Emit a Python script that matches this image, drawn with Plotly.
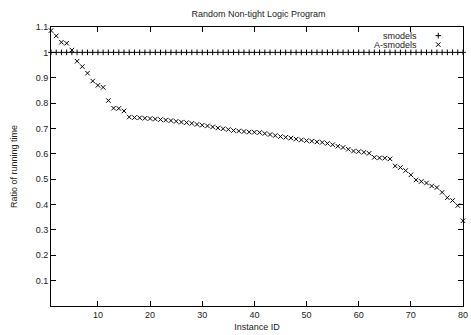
import plotly.graph_objects as go

instance_ids = list(range(1, 81))
smodels = [1.0] * 80
a_smodels = [
    1.086, 1.065, 1.040, 1.036, 1.009, 0.965, 0.944, 0.918, 0.887, 0.870,
    0.862, 0.810, 0.780, 0.779, 0.769, 0.745, 0.743, 0.742, 0.740, 0.739,
    0.737, 0.735, 0.733, 0.731, 0.728, 0.725, 0.723, 0.720, 0.716, 0.713,
    0.710, 0.706, 0.702, 0.699, 0.696, 0.692, 0.690, 0.688, 0.686, 0.685,
    0.684, 0.680, 0.676, 0.672, 0.668, 0.665, 0.662, 0.658, 0.655, 0.652,
    0.650, 0.647, 0.645, 0.641, 0.636, 0.630, 0.625, 0.618, 0.611, 0.609,
    0.606, 0.602, 0.586, 0.584, 0.583, 0.580, 0.552, 0.546, 0.534, 0.517,
    0.497, 0.491, 0.485, 0.473, 0.467, 0.448, 0.427, 0.416, 0.396, 0.336,
]
x_ticks = [10, 20, 30, 40, 50, 60, 70, 80]
y_ticks = [0.1, 0.2, 0.3, 0.4, 0.5, 0.6, 0.7, 0.8, 0.9, 1.0, 1.1]
y_ticktext = ["0.1", "0.2", "0.3", "0.4", "0.5", "0.6", "0.7", "0.8", "0.9", "1", "1.1"]
series_names = ["smodels", "A-smodels"]

FONT = "Liberation Sans, Arial, sans-serif"
ink = "#000000"
txt = "#222222"

fig = go.Figure()
fig.add_trace(go.Scatter(
    x=instance_ids, y=smodels, mode="markers", name=series_names[0],
    marker=dict(symbol="cross-thin", size=4, line=dict(width=1, color=ink), color=ink),
    cliponaxis=False, showlegend=False,
))
fig.add_trace(go.Scatter(
    x=instance_ids, y=a_smodels, mode="markers", name=series_names[1],
    marker=dict(symbol="x-thin", size=4.5, line=dict(width=1, color=ink), color=ink),
    cliponaxis=False, showlegend=False,
))
# legend key markers on an overlay axis (0..1 space over the plot area)
fig.add_trace(go.Scatter(
    x=[0.94], y=[0.969], xaxis="x2", yaxis="y2", mode="markers",
    marker=dict(symbol="cross-thin", size=4, line=dict(width=1, color=ink)),
    showlegend=False, hoverinfo="skip", cliponaxis=False,
))
fig.add_trace(go.Scatter(
    x=[0.94], y=[0.937], xaxis="x2", yaxis="y2", mode="markers",
    marker=dict(symbol="x-thin", size=4.5, line=dict(width=1, color=ink)),
    showlegend=False, hoverinfo="skip", cliponaxis=False,
))

axis_common = dict(
    showline=True, linecolor=ink, linewidth=1, mirror="allticks",
    ticks="inside", ticklen=5, tickwidth=1, tickcolor=ink,
    showgrid=False, zeroline=False, ticklabeloverflow="allow",
    tickfont=dict(family=FONT, size=9, color=txt),
)

fig.update_layout(
    width=471, height=335,
    margin=dict(l=51, r=3, t=27, b=29),
    paper_bgcolor="white", plot_bgcolor="white",
    title=dict(text="Random Non-tight Logic Program", x=0.549, xanchor="center",
               y=1 - 14 / 335, yanchor="middle",
               font=dict(family=FONT, size=9, color=txt)),
    xaxis=dict(range=[1, 80], tickvals=x_ticks,
               title=dict(text="Instance ID", font=dict(family=FONT, size=9, color=txt), standoff=4),
               **axis_common),
    yaxis=dict(range=[0, 1.1], tickvals=y_ticks, ticktext=y_ticktext,
               title=dict(text="Ratio of running time", font=dict(family=FONT, size=9, color=txt), standoff=16),
               **axis_common),
    xaxis2=dict(range=[0, 1], overlaying="x", visible=False, fixedrange=True),
    yaxis2=dict(range=[0, 1], overlaying="y", visible=False, fixedrange=True),
    annotations=[
        dict(text=series_names[0], xref="x2", yref="y2", x=0.893, y=0.969,
             xanchor="right", yanchor="middle", showarrow=False,
             font=dict(family=FONT, size=9, color=txt)),
        dict(text=series_names[1], xref="x2", yref="y2", x=0.893, y=0.937,
             xanchor="right", yanchor="middle", showarrow=False,
             font=dict(family=FONT, size=9, color=txt)),
    ],
)

fig.write_html("out.html", config={"displayModeBar": False},
               post_script="document.body.style.margin='0';document.body.style.overflow='hidden';")
